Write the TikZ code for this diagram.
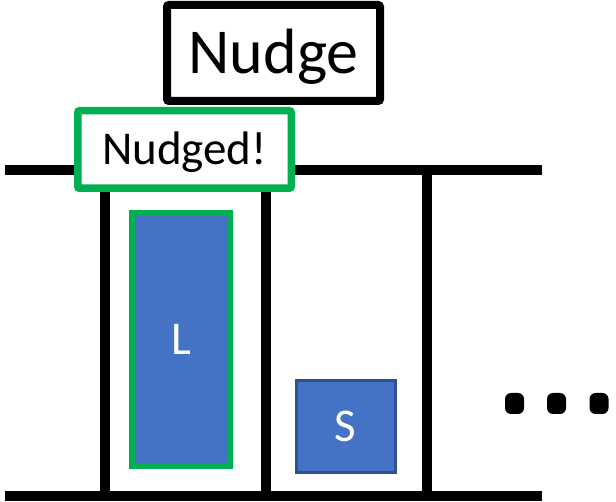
\documentclass[tikz,border=0pt]{standalone}
\usepackage{fontspec}
\setmainfont{Carlito}
\definecolor{boxblue}{HTML}{4472C4}
\definecolor{boxgreen}{HTML}{00B050}
\definecolor{edgeblue}{HTML}{2F528F}
\tikzset{
  wall/.style={line width=10pt, black},
  capbox/.style={inner sep=0pt, text depth=0pt, align=center},
  titlebox/.style={capbox, draw=black, line width=8pt, rounded corners=2pt, fill=white,
    font=\fontsize{64}{70}\selectfont, text height=41pt},
  tagbox/.style={capbox, draw=boxgreen, line width=7.5pt, rounded corners=2pt, fill=white,
    font=\fontsize{47}{54}\selectfont, text height=30pt},
  blockbox/.style={capbox, fill=boxblue, text=white,
    font=\fontsize{47}{54}\selectfont, text height=30pt},
  dotbox/.style={fill=black, rounded corners=6pt, minimum width=19pt, minimum height=21pt, inner sep=0pt}
}
\begin{document}
\begin{tikzpicture}[x=1pt,y=-1pt]
\useasboundingbox (0,0) rectangle (616,502);
\coordinate (tl) at (5,170);
\coordinate (tr) at (542,170);
\coordinate (bl) at (5,495.5);
\coordinate (br) at (542,495.5);
\coordinate (v1t) at (104.5,170);
\coordinate (v1b) at (104.5,495.5);
\coordinate (v2t) at (265.5,170);
\coordinate (v2b) at (265.5,495.5);
\coordinate (v3t) at (426.5,170);
\coordinate (v3b) at (426.5,495.5);
\draw[wall] (tl) -- (tr);
\draw[wall] (bl) -- (br);
\draw[wall] (v1t) -- (v1b);
\draw[wall] (v2t) -- (v2b);
\draw[wall] (v3t) -- (v3b);
\node[titlebox, minimum width=213pt, minimum height=96pt] (nudge) at (273.5,53) {Nudge};
\node[tagbox, minimum width=213.5pt, minimum height=77.5pt] (nudged) at (184.5,149.5) {Nudged!};
\node[blockbox, draw=boxgreen, line width=5.5pt, minimum width=98.5pt, minimum height=253.5pt] (L) at (181,339.5) {L};
\node[blockbox, draw=edgeblue, line width=2.5pt, minimum width=99pt, minimum height=91.5pt] (S) at (345.75,426.5) {S};
\node[dotbox] (d1) at (514.5,403.5) {};
\node[dotbox] (d2) at (556.5,403.5) {};
\node[dotbox] (d3) at (599,403.5) {};
\end{tikzpicture}
\end{document}
